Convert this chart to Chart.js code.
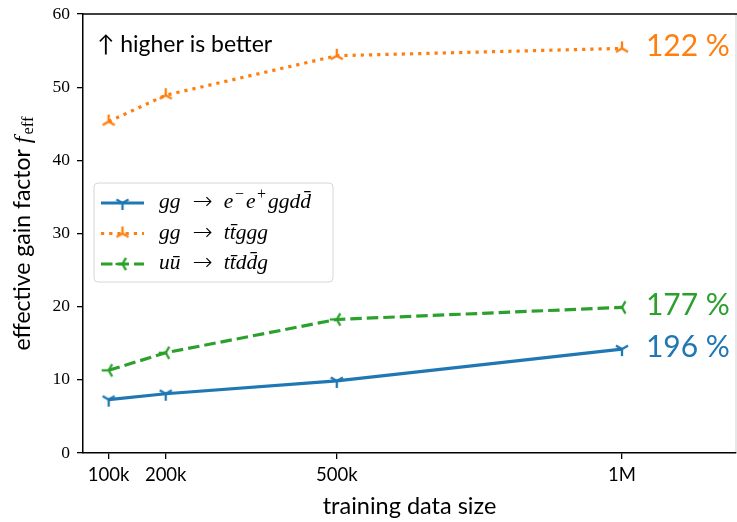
<!DOCTYPE html>
<html>
<head>
<meta charset="utf-8">
<script src="https://cdn.jsdelivr.net/npm/chart.js@4"></script>
<style>
  html, body { margin: 0; padding: 0; background: #fff; }
  #wrap { width: 737px; height: 522px; position: relative; }
</style>
</head>
<body>
<div id="wrap"><canvas id="chart"></canvas></div>
<script>
// ---- data ----
const trainSizes = [100000, 200000, 500000, 1000000];
const trainTickLabels = ["100k", "200k", "500k", "1M"];
const gainEEggdd = [7.3, 8.1, 9.85, 14.2];
const gainTTggg = [45.3, 48.9, 54.3, 55.3];
const gainTTddg = [11.3, 13.7, 18.25, 19.9];
const seriesNames = ["gg → e^{−}e^{+}ggdd̄", "gg → tt̄ggg", "uū → tt̄dd̄g"];
const gainPercent = ["196 %", "122 %", "177 %"];
const yTicks = [0, 10, 20, 30, 40, 50, 60];

const BLUE = "#1f77b4", ORANGE = "#ff7f0e", GREEN = "#2ca02c";
const SANS = "Lato, 'DejaVu Sans', sans-serif";
const SERIF = "'Liberation Serif', 'DejaVu Serif', serif";
const LW = 3.2;

// matplotlib-like tri markers, arms given as canvas angles in degrees
function triMarker(color, angles) {
  const s = 18, c = document.createElement("canvas");
  c.width = s; c.height = s;
  const g = c.getContext("2d");
  g.strokeStyle = color;
  g.lineWidth = 2.3;
  g.lineCap = "butt";
  for (const a of angles) {
    const r = a * Math.PI / 180;
    g.beginPath();
    g.moveTo(s / 2, s / 2);
    g.lineTo(s / 2 + 7 * Math.cos(r), s / 2 + 7 * Math.sin(r));
    g.stroke();
  }
  return c;
}

const series = [
  { values: gainEEggdd, color: BLUE, dash: [], marker: triMarker(BLUE, [90, 210, 330]) },
  { values: gainTTggg, color: ORANGE, dash: [3.2, 5], marker: triMarker(ORANGE, [270, 30, 150]) },
  { values: gainTTddg, color: GREEN, dash: [11.5, 5], marker: triMarker(GREEN, [180, 300, 60]) },
];

// draw math-like text: italic letters, upright arrow, ^{..} superscripts
function drawMath(ctx, str, x, y, size) {
  const parts = str.match(/\^\{[^}]*\}|→|[^^→]+/g);
  let cx = x;
  for (const p of parts) {
    if (p === "→") {
      cx += 6;
      ctx.font = "300 " + Math.round(size * 1.1) + "px 'DejaVu Sans', sans-serif";
      ctx.fillText("→", cx, y + 1);
      cx += ctx.measureText("→").width + 6;
      continue;
    }
    let txt = p, font = "italic " + size + "px " + SERIF, dy = 0;
    if (p.startsWith("^{")) {
      txt = p.slice(2, -1);
      font = Math.round(size * 0.75) + "px " + SERIF;
      dy = -size * 0.4;
      cx += 1;
    }
    ctx.font = font;
    ctx.fillText(txt, cx, y + dy);
    cx += ctx.measureText(txt).width + (p.startsWith("^{") ? 2 : 0.5);
  }
}

const extras = {
  id: "extras",
  afterDraw(chart) {
    const { ctx, chartArea: a, scales } = chart;
    const xs = scales.x, ys = scales.y;
    ctx.save();
    // top spine and clipped right spine
    ctx.strokeStyle = "#000";
    ctx.lineWidth = 1.5;
    ctx.beginPath();
    ctx.moveTo(a.left - 0.75, a.top);
    ctx.lineTo(a.right + 1, a.top);
    ctx.stroke();
    ctx.strokeStyle = "rgba(0,0,0,0.12)";
    ctx.beginPath();
    ctx.moveTo(a.right, a.top);
    ctx.lineTo(a.right, a.bottom);
    ctx.stroke();

    // percentage labels at the last point
    ctx.textBaseline = "middle";
    ctx.textAlign = "left";
    ctx.font = "30px " + SANS;
    const last = trainSizes.length - 1;
    series.forEach((s, i) => {
      ctx.fillStyle = s.color;
      ctx.fillText(gainPercent[i], xs.getPixelForValue(trainSizes[last]) + 24,
        ys.getPixelForValue(s.values[last]) - 2);
    });

    // hint
    ctx.fillStyle = "#000";
    ctx.font = "23px " + SANS;
    ctx.fillText("↑ higher is better", a.left + 14, a.top + 31);

    // legend
    const lx = 94, ly = 183, lw = 239, lh = 99;
    ctx.beginPath();
    ctx.roundRect(lx, ly, lw, lh, 4);
    ctx.fillStyle = "rgba(255,255,255,0.85)";
    ctx.fill();
    ctx.strokeStyle = "#d6d6d6";
    ctx.lineWidth = 1;
    ctx.stroke();
    series.forEach((s, i) => {
      const ry = ly + 20 + i * 30.5;
      ctx.strokeStyle = s.color;
      ctx.lineWidth = LW;
      ctx.setLineDash(s.dash);
      ctx.beginPath();
      ctx.moveTo(101, ry);
      ctx.lineTo(144, ry);
      ctx.stroke();
      ctx.setLineDash([]);
      ctx.drawImage(s.marker, 122.5 - 9, ry - 9);
      ctx.fillStyle = "#000";
      ctx.textBaseline = "alphabetic";
      drawMath(ctx, seriesNames[i], 159, ry + 5, 21.5);
    });

    // y axis title with f_eff
    ctx.translate(22, (a.top + a.bottom) / 2);
    ctx.rotate(-Math.PI / 2);
    ctx.textBaseline = "alphabetic";
    ctx.fillStyle = "#000";
    const t1 = "effective gain factor ";
    ctx.font = "23px " + SANS;
    const w1 = ctx.measureText(t1).width;
    ctx.font = "italic 24px " + SERIF;
    const w2 = ctx.measureText("f").width + 2;
    ctx.font = "16.5px " + SERIF;
    const w3 = ctx.measureText("eff").width;
    let px = -(w1 + w2 + w3) / 2;
    ctx.font = "23px " + SANS;
    ctx.fillText(t1, px, 8);
    px += w1;
    ctx.font = "italic 24px " + SERIF;
    ctx.fillText("f", px, 8);
    px += w2;
    ctx.font = "16.5px " + SERIF;
    ctx.fillText("eff", px, 11);
    ctx.restore();
  },
};

new Chart(document.getElementById("chart"), {
  type: "scatter",
  data: {
    datasets: series.map((s, i) => ({
      label: seriesNames[i],
      data: trainSizes.map((x, j) => ({ x, y: s.values[j] })),
      showLine: true,
      borderColor: s.color,
      backgroundColor: s.color,
      borderWidth: LW,
      borderDash: s.dash,
      borderCapStyle: "butt",
      pointStyle: s.marker,
      pointRadius: 6,
      tension: 0,
    })),
  },
  options: {
    responsive: true,
    maintainAspectRatio: false,
    animation: false,
    events: [],
    layout: { autoPadding: false, padding: { left: 0, top: 14, right: 1, bottom: 0 } },
    plugins: { legend: { display: false }, tooltip: { enabled: false } },
    scales: {
      x: {
        type: "linear",
        min: 55000,
        max: 1200000,
        afterBuildTicks: (s) => { s.ticks = trainSizes.map((v) => ({ value: v })); },
        afterFit: (s) => { s.height = 69; s.paddingLeft = 0; s.paddingRight = 0; },
        ticks: {
          callback: (v) => trainTickLabels[trainSizes.indexOf(v)],
          color: "#000",
          font: { family: SANS, size: 18.5 },
          padding: 5,
          maxRotation: 0,
          autoSkip: false,
        },
        grid: { drawOnChartArea: false, drawTicks: true, tickLength: 6, color: "#000", lineWidth: 1.3 },
        border: { display: true, color: "#000", width: 1.5 },
        title: {
          display: true,
          text: "training data size",
          color: "#000",
          font: { family: SANS, size: 23.5 },
          padding: { top: 0, bottom: 1 },
        },
      },
      y: {
        min: 0,
        max: 60,
        afterBuildTicks: (s) => { s.ticks = yTicks.map((v) => ({ value: v })); },
        afterFit: (s) => { s.width = 83; s.paddingTop = 0; s.paddingBottom = 0; },
        ticks: { color: "#000", font: { family: SERIF, size: 17.5 }, padding: 7 },
        grid: { drawOnChartArea: false, drawTicks: true, tickLength: 6, color: "#000", lineWidth: 1.3 },
        border: { display: true, color: "#000", width: 1.5 },
      },
    },
  },
  plugins: [extras],
});
</script>
</body>
</html>
